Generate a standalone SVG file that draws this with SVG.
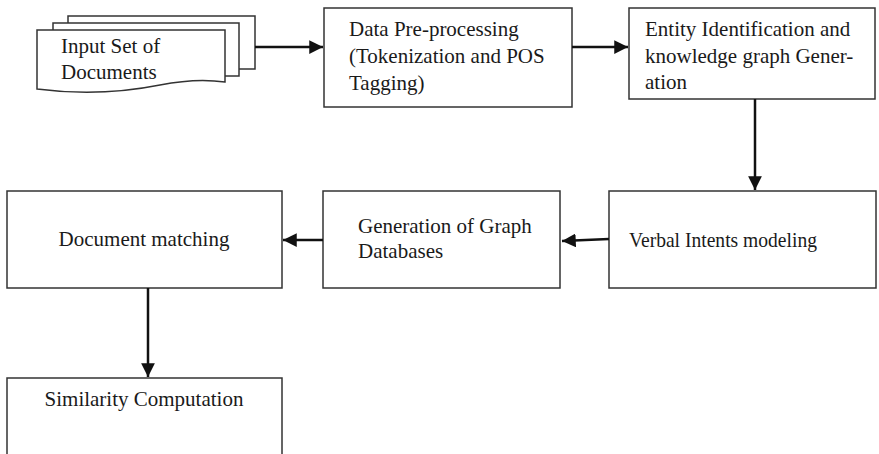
<svg xmlns="http://www.w3.org/2000/svg" width="879" height="454" viewBox="0 0 879 454">
<defs>
<style>
.box{fill:#fff;stroke:#333;stroke-width:1.5}
.t{font-family:"Liberation Serif","Times New Roman",serif;font-size:21px;fill:#1a1a1a}
.c{stroke:#111;stroke-width:2.5;fill:none}
</style>
<marker id="ah" viewBox="0 0 10 10" refX="10" refY="5" markerWidth="5.5" markerHeight="5.5" markerUnits="strokeWidth" orient="auto">
<path d="M0,0 L10,5 L0,10 z" fill="#111"/>
</marker>
</defs>
<rect width="879" height="454" fill="#fff"/>
<g id="input">
<rect class="box" x="68" y="16" width="187" height="53"/>
<rect class="box" x="53" y="23" width="186" height="53"/>
<path class="box" d="M37,30 H225 V82 C205,79 185,80 160,85 C130,91 90,96 37,89 Z"/>
<text class="t" x="61" y="53">Input Set of</text>
<text class="t" x="61" y="79">Documents</text>
</g>
<g id="preprocessing">
<rect class="box" x="324" y="8" width="248" height="99"/>
<text class="t" x="349" y="36">Data Pre-processing</text>
<text class="t" x="349" y="63">(Tokenization and POS</text>
<text class="t" x="349" y="90">Tagging)</text>
</g>
<g id="entity">
<rect class="box" x="629" y="8" width="246" height="91"/>
<text class="t" x="645" y="36">Entity Identification and</text>
<text class="t" x="645" y="63">knowledge graph Gener-</text>
<text class="t" x="645" y="89">ation</text>
</g>
<g id="verbal">
<rect class="box" x="609" y="191" width="267" height="97"/>
<text class="t" x="629" y="247" textLength="188" lengthAdjust="spacingAndGlyphs">Verbal Intents modeling</text>
</g>
<g id="graphdb">
<rect class="box" x="323" y="191" width="237" height="97"/>
<text class="t" x="358" y="233">Generation of Graph</text>
<text class="t" x="358" y="258">Databases</text>
</g>
<g id="matching">
<rect class="box" x="7" y="191" width="275" height="97"/>
<text class="t" x="144" y="246" text-anchor="middle">Document matching</text>
</g>
<g id="similarity">
<rect class="box" x="7" y="378" width="275" height="90"/>
<text class="t" x="144" y="406" text-anchor="middle">Similarity Computation</text>
</g>
<g id="connectors">
<line class="c" x1="255" y1="47" x2="323" y2="47" marker-end="url(#ah)"/>
<line class="c" x1="572" y1="47" x2="628" y2="47" marker-end="url(#ah)"/>
<line class="c" x1="755" y1="99" x2="755" y2="190" marker-end="url(#ah)"/>
<line class="c" x1="609" y1="239" x2="562" y2="241" marker-end="url(#ah)"/>
<line class="c" x1="323" y1="240" x2="283" y2="240" marker-end="url(#ah)"/>
<line class="c" x1="148" y1="288" x2="148" y2="377" marker-end="url(#ah)"/>
</g>
</svg>
